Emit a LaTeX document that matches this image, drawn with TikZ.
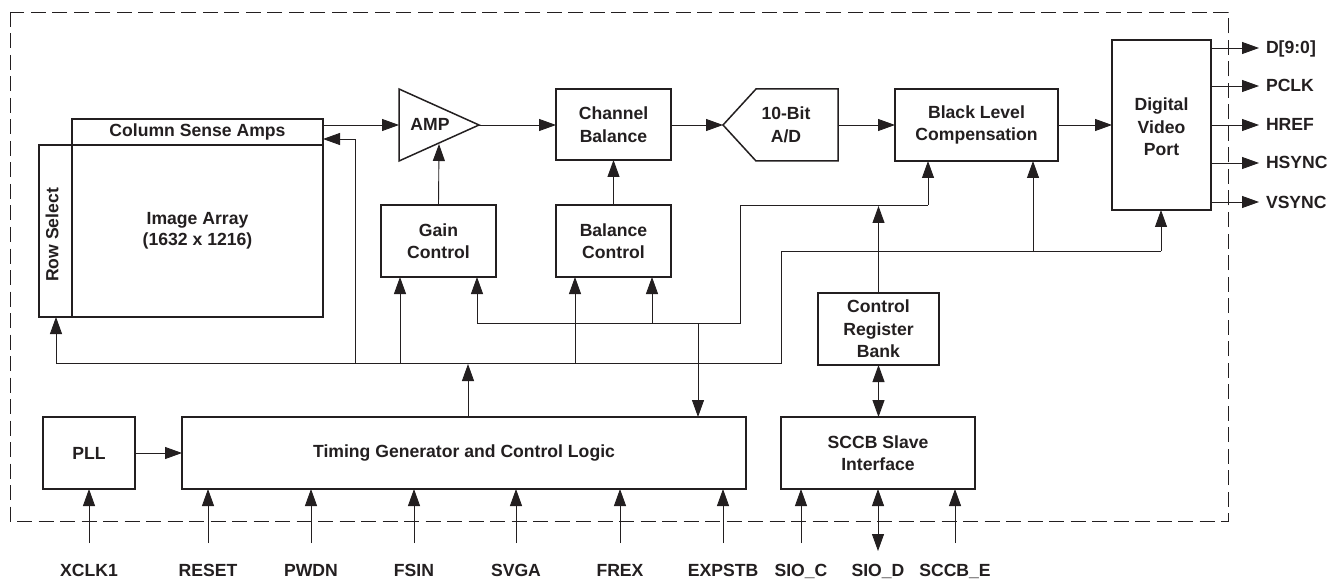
\documentclass[tikz,border=0pt]{standalone}
\usepackage{fontspec}
\setmainfont{Liberation Sans}
\usetikzlibrary{arrows.meta,calc}
\definecolor{ink}{HTML}{231F20}
\tikzset{
  box/.style={draw=ink,line width=1.5pt,rectangle,inner sep=0pt,outer sep=0pt,align=center,text=ink,font=\fontsize{17.6}{22.5}\selectfont\bfseries},
  txt/.style={inner sep=0pt,outer sep=0pt,align=center,text=ink,font=\fontsize{17.6}{22.5}\selectfont\bfseries},
  pin/.style={inner sep=0pt,outer sep=0pt,text=ink,font=\fontsize{17.6}{18}\selectfont\bfseries},
  wire/.style={draw=ink,line width=0.9pt},
  arr/.style={wire,-{Triangle[length=17pt,width=12pt,color=ink]}},
  darr/.style={wire,{Triangle[length=17pt,width=12pt,color=ink]}-{Triangle[length=17pt,width=12pt,color=ink]}},
  shapeline/.style={draw=ink,line width=1.5pt,line join=miter}
}
\begin{document}
\begin{tikzpicture}[x=1pt,y=-1pt]
\useasboundingbox (0,0) rectangle (1341,580);
\fill[white] (0,0) rectangle (1341,580);
\draw[draw=ink,line width=0.8pt,dash pattern=on 15pt off 6.5pt] (10,12) rectangle (1228,521);

% blocks
\node[box,minimum width=33pt,minimum height=172pt] (rowsel) at (55.5,231) {};
\node[txt,rotate=90] (rowtxt) at (52,235) {Row Select};
\node[box,minimum width=251pt,minimum height=26pt] (col) at (197.5,132) {Column Sense Amps};
\node[box,minimum width=251pt,minimum height=172pt,font=\fontsize{17.6}{21}\selectfont\bfseries] (img) at (197.5,231) {Image Array\\(1632 x 1216)};
\node[box,minimum width=115pt,minimum height=71pt] (chan) at (613.5,124.5) {Channel\\Balance};
\node[box,minimum width=163pt,minimum height=72pt] (black) at (976.5,125) {Black Level\\Compensation};
\node[box,minimum width=99pt,minimum height=170pt] (dvp) at (1161.5,125) {};
\node[txt] (dvptxt) at (1161.5,127) {Digital\\Video\\Port};
\node[box,minimum width=115pt,minimum height=72pt] (gain) at (438.5,241) {Gain\\Control};
\node[box,minimum width=115pt,minimum height=72pt] (bal) at (613.5,241) {Balance\\Control};
\node[box,minimum width=121pt,minimum height=72pt] (crb) at (878.5,329) {Control\\Register\\Bank};
\node[box,minimum width=194pt,minimum height=72pt] (sccb) at (878,453) {SCCB Slave\\Interface};
\node[box,minimum width=564pt,minimum height=72pt] (tim) at (464,453) {Timing Generator and Control Logic};
\node[box,minimum width=92pt,minimum height=72pt] (pll) at (89,453) {PLL};

% amp and A/D
\draw[shapeline] (399,89) -- (479,125) -- (399,161) -- cycle;
\coordinate (ampw) at (399,125);
\coordinate (ampe) at (479,125);
\coordinate (amps) at (439,144);
\node[txt] (amptxt) at (430,124) {AMP};
\draw[shapeline] (723,125) -- (756,89) -- (838,89) -- (838,161) -- (756,161) -- cycle;
\coordinate (adw) at (723,125);
\coordinate (ade) at (838,125);
\node[txt] (adtxt) at (786,125) {10-Bit\\A/D};

% signal chain
\draw[arr] (col.east |- ampw) -- (ampw);
\draw[arr] (ampe) -- (chan.west |- ampe);
\draw[arr] (chan.east |- adw) -- (adw);
\draw[arr] (ade) -- (black.west);
\draw[arr] (black.east) -- (dvp.west);
\draw[arr] (gain.north) -- (amps);
\draw[arr] (bal.north) -- (chan.south);

% main bus
\coordinate (busa) at (56,363);
\coordinate (busb) at (781,363);
\coordinate (busc) at (781,251);
\coordinate (busd) at (1161,251);
\draw[wire] (busa) -- (busb) -- (busc) -- (busd);
\draw[arr] (busa) -- (56,0 |- rowsel.south);
\draw[arr] (355,363) -- (355,139) -- (col.east |- 0,139);
\draw[arr] (400,363) -- (400,0 |- gain.south);
\draw[arr] (575,363) -- (575,0 |- bal.south);
\draw[arr] (busd) -- (1161,0 |- dvp.south);
\draw[arr] (1033,251) -- (1033,0 |- black.south);
\draw[arr] (468,0 |- tim.north) -- (468,364);

% second bus
\coordinate (seca) at (477,323);
\coordinate (secb) at (740.5,323);
\coordinate (secc) at (740.5,205);
\coordinate (secd) at (928,205);
\draw[wire] (seca) -- (secb) -- (secc) -- (secd);
\draw[arr] (seca) -- (477,0 |- gain.south);
\draw[arr] (652,323) -- (652,0 |- bal.south);
\draw[arr] (secd) -- (928,0 |- black.south);
\draw[arr] (698,323) -- (698,0 |- tim.north);
\draw[arr] (crb.north) -- (878.5,206);
\draw[darr] (crb.south) -- (crb.south |- sccb.north);
\draw[arr] (pll.east) -- (tim.west);

% output pins
\foreach \nm/\yy/\lab in {d/48/D[9:0],p/86/PCLK,hr/125/HREF,hs/163/HSYNC,vs/202/VSYNC}{
  \node[pin,anchor=base west] (o\nm) at (1266,\yy+6) {\lab};
  \coordinate (oc\nm) at (1259,\yy);
  \draw[arr] (dvp.east |- oc\nm) -- (oc\nm);
}
% input pins
\foreach \nm/\xx/\lab/\tgt in {xc/89/XCLK1/pll,rs/208/RESET/tim,pd/311/PWDN/tim,fs/414/FSIN/tim,sv/516/SVGA/tim,fr/620/FREX/tim,ex/723/EXPSTB/tim,sc/801/SIO\_C/sccb,sb/955/SCCB\_E/sccb}{
  \node[pin,anchor=base] (i\nm) at (\xx,576) {\lab};
  \coordinate (ic\nm) at (\xx,543);
  \draw[arr] (ic\nm) -- (ic\nm |- \tgt.south);
}
\node[pin,anchor=base] (isd) at (878,576) {SIO\_D};
\coordinate (icsd) at (878,551);
\draw[darr] (icsd) -- (icsd |- sccb.south);
\end{tikzpicture}
\end{document}
